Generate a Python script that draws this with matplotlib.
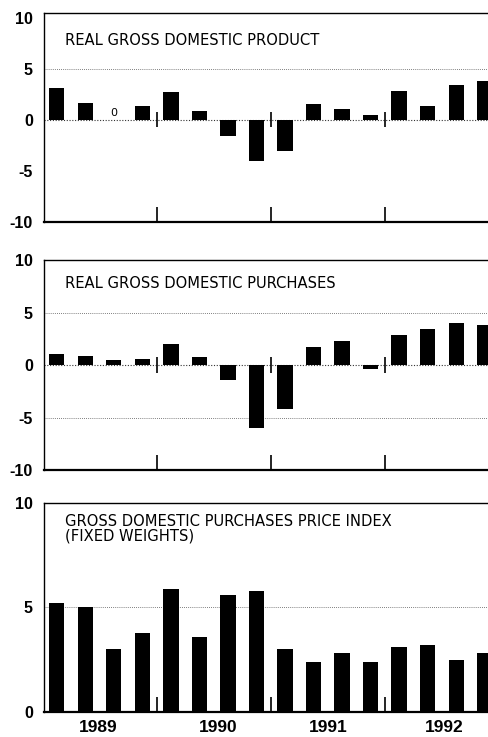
import numpy as np
import matplotlib.pyplot as plt
import matplotlib.font_manager as fm

# quarterly percent changes, 1989 Q1 .. 1992 Q4
quarters = ['89Q1', '89Q2', '89Q3', '89Q4', '90Q1', '90Q2', '90Q3', '90Q4',
            '91Q1', '91Q2', '91Q3', '91Q4', '92Q1', '92Q2', '92Q3', '92Q4']
years = ['1989', '1990', '1991', '1992']
gdp = [3.1, 1.7, 0.0, 1.4, 2.7, 0.9, -1.6, -4.0, -3.1, 1.6, 1.1, 0.5, 2.8, 1.4, 3.4, 3.8]
purchases = [1.1, 0.9, 0.5, 0.6, 2.0, 0.8, -1.4, -6.0, -4.2, 1.7, 2.3, -0.4, 2.9, 3.4, 4.0, 3.8]
price_index = [5.2, 5.0, 3.0, 3.8, 5.9, 3.6, 5.6, 5.8, 3.0, 2.4, 2.8, 2.4, 3.1, 3.2, 2.5, 2.8]
titles = ['REAL GROSS DOMESTIC PRODUCT', 'REAL GROSS DOMESTIC PURCHASES',
          'GROSS DOMESTIC PURCHASES PRICE INDEX\n(FIXED WEIGHTS)']

# look for an upright condensed sans face, else plain Liberation Sans
narrow = None
for f in fm.fontManager.ttflist:
    is_narrow = 'Narrow' in f.name or 'Condensed' in f.name or f.stretch == 'condensed'
    upright = f.style == 'normal' and f.weight in (400, 'normal', 'regular')
    fn = f.fname.lower()
    if is_narrow and upright and 'bold' not in fn and 'oblique' not in fn and 'italic' not in fn:
        narrow = f.fname
        break
if narrow:
    title_font = fm.FontProperties(fname=narrow, size=11.8)
else:
    title_font = fm.FontProperties(family='Liberation Sans', size=11.5)

x = np.arange(len(quarters))
year_breaks = [3.5, 7.5, 11.5]
year_mid = [1.45, 5.65, 9.5, 13.6]

fig = plt.figure(figsize=(4.88, 7.37), dpi=100)
boxes = [[0.090, 0.699, 0.910, 0.2836],
         [0.090, 0.362, 0.910, 0.285],
         [0.090, 0.034, 0.910, 0.2836]]
series = [gdp, purchases, price_index]
ylims = [(-10, 10.5), (-10, 10), (0, 10)]
title_y = [0.902, 0.925, 0.945]

for k in range(3):
    ax = fig.add_axes(boxes[k])
    vals = series[k]
    ax.bar(x, vals, width=0.53, color='black', zorder=3)
    ax.set_xlim(-0.456, 15.12)
    ax.set_ylim(*ylims[k])
    if k < 2:
        ax.set_yticks([-10, -5, 0, 5, 10])
        ax.set_yticklabels(['-10', '-5', '0', '5', '10'])
        ax.axhline(0, color='#333333', ls=(0, (1, 1.5)), lw=0.8, zorder=1)
        ax.axhline(5, color='#555555', ls=(0, (1, 1.5)), lw=0.6, zorder=1)
        if k == 1:
            ax.axhline(-5, color='#555555', ls=(0, (1, 1.5)), lw=0.6, zorder=1)
        ax.vlines(year_breaks, -0.7, 0.8, color='black', lw=1.2, zorder=4)
    else:
        ax.set_yticks([0, 5, 10])
        ax.set_yticklabels(['0', '5', '10'])
        ax.axhline(5, color='#555555', ls=(0, (1, 1.5)), lw=0.6, zorder=1)
    ax.set_xticks(year_breaks)
    ax.set_xticklabels([])
    ax.tick_params(axis='x', which='major', direction='in', length=10.5, width=1.2)
    ax.set_xticks(year_mid, minor=True)
    if k == 2:
        ax.set_xticklabels(years, minor=True, fontweight='bold', fontsize=12.5,
                           family='Liberation Sans')
    ax.tick_params(axis='x', which='minor', length=0, pad=6)
    ax.tick_params(axis='y', length=0, pad=8)
    for lab in ax.get_yticklabels():
        lab.set_fontweight('bold')
        lab.set_fontsize(11.5)
        lab.set_family('Liberation Sans')
    ax.spines['right'].set_visible(False)
    ax.spines['bottom'].set_linewidth(1.6)
    ax.spines['left'].set_linewidth(1.0)
    ax.spines['top'].set_linewidth(1.0)
    ax.text(0.047, title_y[k], titles[k], transform=ax.transAxes, ha='left', va='top',
            fontproperties=title_font, linespacing=0.95)
    if k == 0:
        # zero-valued quarter is marked with a small "0"
        for i, v in enumerate(vals):
            if v == 0:
                ax.text(x[i], 0.2, '0', ha='center', va='bottom', fontsize=8, zorder=5)

fig.savefig('out.png', dpi=100)
